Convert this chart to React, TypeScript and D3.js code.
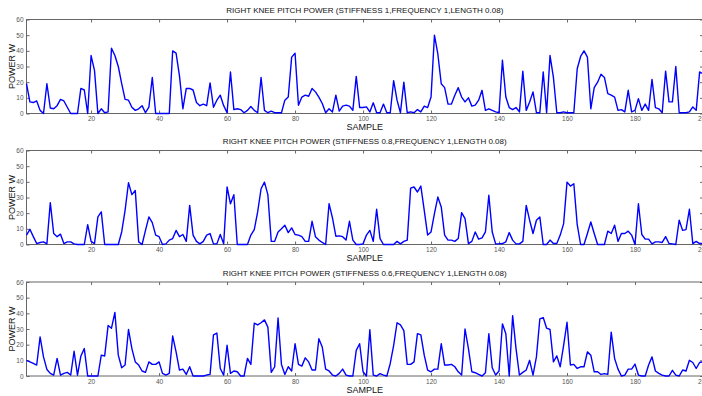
import React, { useEffect, useRef } from 'react';
import * as d3 from 'd3';

// power readings, samples 1..200
const stiffness1: number[] = [
  19, 7.4, 7, 8, 2, 0, 19, 3.5, 3, 5, 9, 8, 4, 0, 0, 0, 16, 15, 0, 37,
  27.5, 0, 3, 0.5, 1, 41.7, 37, 30, 19, 9, 8.5, 4, 2, 3, 5, 0.5, 4, 23, 0, 0,
  0, 0, 0, 40, 38.5, 24, 3, 16, 16, 15, 7, 5, 6, 5, 19.5, 4, 8.5, 11.7, 5, 0.5,
  26.5, 2.5, 3, 2.5, 0.5, 2, 4.5, 2, 0.5, 23, 2, 0.5, 1.5, 0.5, 0.5, 0.5, 8.5, 10.5, 36, 38.5,
  5.3, 10.5, 11.7, 11, 16, 13.8, 10.5, 6.4, 0.5, 3, 1, 11.7, 1.5, 4.7, 5.3, 4.7, 2, 23.7, 3.8, 3.8,
  4.2, 1, 6.8, 0.5, 0.5, 6, 0.5, 0.5, 21, 8.5, 0.5, 20, 0.5, 1, 0.5, 2.5, 1, 4.7, 3.8, 10.5,
  50, 38, 19, 16.5, 6, 6, 11.7, 16.5, 10.5, 7.4, 10, 4.7, 5.3, 8.5, 14.8, 2, 3, 2, 1, 0.5,
  34, 10.5, 3.8, 2.5, 3.8, 1, 27, 2, 7.4, 13.8, 0.5, 0.5, 26.5, 0.5, 37, 23, 0.5, 0.5, 1, 0.5,
  0.5, 0.5, 28.6, 36.4, 40, 36, 3, 16.5, 20, 25, 23, 12.7, 11.7, 10.5, 2, 2.5, 1, 14.8, 1, 2,
  9.5, 2, 6, 2, 21.8, 3.8, 3, 0.5, 27, 7.4, 7.4, 30, 0.5, 0.5, 0.5, 1, 4.2, 2, 26.5, 25.4,
];

const stiffness08: number[] = [
  6, 9.7, 5, 0.6, 1.3, 1.7, 0.4, 26.7, 7, 5, 6.6, 0.6, 1.7, 1.7, 0.4, 0, 0, 0, 12.7, 2,
  0.6, 17.6, 20.8, 0, 0, 0, 0, 0, 8, 21.8, 39.4, 31.8, 34.5, 1.7, 0, 9, 17.6, 14, 6, 5,
  0, 0.4, 2.8, 3.8, 9, 5, 6.4, 2, 25, 6, 2, 0.4, 2, 6, 7, 0.4, 0.4, 6.4, 0.4, 36.7,
  26, 31.8, 0, 0, 0, 0, 6, 9.5, 20.8, 35.6, 39.8, 31.8, 2, 2, 8, 10, 12.3, 7.6, 10.6, 6.4,
  6, 5, 2, 2, 14.8, 5, 2.8, 1.3, 0, 26, 17, 5.3, 5.5, 5, 2.8, 14.8, 2.8, 0, 0, 0.4,
  6, 9, 2, 22.5, 3.8, 0, 0, 0, 0, 2, 0.4, 2, 2.8, 36, 36.7, 33.5, 37.3, 21.8, 6, 8,
  19.7, 30.3, 24, 6, 2.8, 2.8, 2, 3.8, 20.3, 16.5, 0.6, 2, 8, 3.4, 4.2, 8, 31.4, 8, 0.4, 0.4,
  0.6, 1.7, 7.6, 2.8, 0.4, 0.4, 2, 25, 15.5, 7, 15.5, 17.6, 0, 0, 2.8, 0.6, 0.6, 6, 13.3, 39.8,
  37.3, 38.8, 12.7, 0, 0, 7, 14.4, 7, 0, 0, 0, 8.5, 7, 12.3, 2, 7, 7, 8.5, 6, 0,
  26, 6.4, 3.4, 3.4, 0.4, 1.7, 1.7, 1.3, 5, 0.6, 0.4, 0, 15.5, 9, 9.5, 22.5, 0.6, 2, 0.6, 0.6,
];

const stiffness06: number[] = [
  10, 9, 8, 7, 25, 12.2, 4.2, 1.7, 0.6, 11.2, 0.6, 1.7, 2.3, 0.6, 15.8, 0.6, 12.8, 17.5, 0, 0,
  0, 0, 13.3, 12.8, 32.2, 30.5, 40.6, 13.3, 5.3, 7, 29.7, 17.5, 9, 7, 3.2, 2.3, 9, 7.4, 7.4, 9,
  1.7, 0.6, 1.7, 25.5, 15.4, 3.8, 4.4, 1, 5.9, 0, 0, 0, 0, 0.6, 1, 26.3, 27.4, 4.8, 0.6, 19.6,
  1.7, 3.2, 2.7, 0, 0, 11.2, 7.4, 33.7, 32.6, 34, 35.8, 31.2, 2.3, 5.9, 37, 7.4, 1, 5.9, 3.2, 20.6,
  7.4, 6.3, 11.6, 9, 3.8, 3.8, 23.8, 18.5, 4.4, 3.2, 0.6, 0, 1.7, 4.4, 0.6, 0, 0, 16.4, 20.6, 2.7,
  0, 29.5, 0.6, 0, 1.5, 0.6, 0, 8, 19.6, 34, 32.6, 29, 7.4, 7.4, 9, 27, 26.3, 13.3, 3.8, 2.7,
  4.4, 4.4, 20.6, 7, 7, 7.4, 5.9, 2.7, 0.6, 30, 17.5, 2.7, 2.1, 1, 0, 2.1, 27, 5.3, 0.6, 3.2,
  33.3, 27, 0, 38.5, 17.5, 0.6, 2.3, 3.8, 10, 0.6, 12.2, 36.4, 37.3, 30.5, 29.7, 9, 12.8, 5.9, 19.6, 34.3,
  7, 7.4, 4.8, 5.9, 5.9, 15.4, 13.3, 2.7, 2.7, 1, 1.5, 1, 28, 11.2, 4.4, 0, 0.6, 4.4, 4.4, 7.6,
  0.6, 0, 0, 7, 12.2, 3.2, 1.7, 0.6, 0, 0, 3.6, 0.6, 0, 3.8, 3.2, 10, 8.6, 4.8, 8.6, 9,
];

const panelTitles = [
  'RIGHT KNEE PITCH POWER (STIFFNESS 1,FREQUENCY 1,LENGTH 0.08)',
  'RIGHT KNEE PITCH POWER (STIFFNESS 0.8,FREQUENCY 1,LENGTH 0.08)',
  'RIGHT KNEE PITCH POWER (STIFFNESS 0.6,FREQUENCY 1,LENGTH 0.08)',
];
const panelSeries = [stiffness1, stiffness08, stiffness06];
const xTicks = [20, 40, 60, 80, 100, 120, 140, 160, 180, 200];
const yTicks = [0, 10, 20, 30, 40, 50, 60];

const W = 702;
const H = 396;
const FONT = 'Arial, "Liberation Sans", sans-serif';

const App = () => {
  const ref = useRef<SVGSVGElement | null>(null);

  useEffect(() => {
    if (!ref.current) return;
    const svg = d3.select(ref.current);
    svg.selectAll('*').remove();

    const left = 26.5;
    const right = 703;
    const tops = [19.5, 150.5, 282];
    const plotH = 94;

    const x = d3.scaleLinear().domain([1, 200]).range([left, right]);

    panelSeries.forEach((values, i) => {
      const top = tops[i];
      const y = d3.scaleLinear().domain([0, 60]).range([top + plotH, top]);
      const g = svg.append('g');

      // axes box
      g.append('rect')
        .attr('x', left)
        .attr('y', top)
        .attr('width', right - left)
        .attr('height', plotH)
        .attr('fill', 'white')
        .attr('stroke', '#666')
        .attr('stroke-width', 1);

      // ticks point inward on all four sides, labels only bottom/left
      const bottom = g.append('g')
        .attr('transform', `translate(0,${top + plotH})`)
        .call(d3.axisBottom(x).tickValues(xTicks).tickSizeInner(-3).tickSizeOuter(0).tickPadding(3));
      const topAx = g.append('g')
        .attr('transform', `translate(0,${top})`)
        .call(d3.axisTop(x).tickValues(xTicks).tickSizeInner(-3).tickSizeOuter(0).tickFormat(() => ''));
      const leftAx = g.append('g')
        .attr('transform', `translate(${left},0)`)
        .call(d3.axisLeft(y).tickValues(yTicks).tickSizeInner(-3).tickSizeOuter(0).tickPadding(3));
      const rightAx = g.append('g')
        .attr('transform', `translate(${right},0)`)
        .call(d3.axisRight(y).tickValues(yTicks).tickSizeInner(-3).tickSizeOuter(0).tickFormat(() => ''));

      [bottom, topAx, leftAx, rightAx].forEach((ax) => {
        ax.select('.domain').remove();
        ax.selectAll('line').attr('stroke', '#666');
        ax.selectAll('text')
          .attr('fill', '#555')
          .style('font-family', FONT)
          .style('font-size', '6.5px');
      });

      const line = d3.line<number>()
        .x((_, j) => x(j + 1))
        .y((d) => y(d));

      g.append('path')
        .datum(values)
        .attr('d', line)
        .attr('fill', 'none')
        .attr('stroke', '#0000ff')
        .attr('stroke-width', 1.4)
        .attr('stroke-linejoin', 'round');

      g.append('text')
        .attr('x', (left + right) / 2)
        .attr('y', top - 6.5)
        .attr('text-anchor', 'middle')
        .style('font-family', FONT)
        .style('font-size', '8px')
        .attr('fill', '#111')
        .text(panelTitles[i]);

      g.append('text')
        .attr('x', (left + right) / 2)
        .attr('y', top + plotH + 16.5)
        .attr('text-anchor', 'middle')
        .style('font-family', FONT)
        .style('font-size', '9px')
        .attr('fill', '#111')
        .text('SAMPLE');

      g.append('text')
        .attr('transform', `translate(14.5,${top + plotH / 2}) rotate(-90)`)
        .attr('text-anchor', 'middle')
        .style('font-family', FONT)
        .style('font-size', '9px')
        .attr('fill', '#111')
        .text('POWER W');
    });
  }, []);

  return (
    <svg
      ref={ref}
      width={W}
      height={H}
      style={{ position: 'absolute', left: 0, top: 0, background: 'white' }}
    />
  );
};

export default App;
